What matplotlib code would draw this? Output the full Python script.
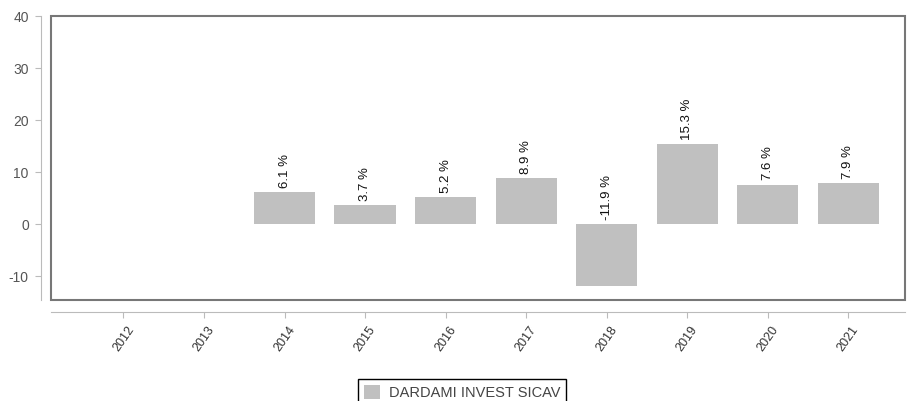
import matplotlib
matplotlib.use("Agg")
import matplotlib.pyplot as plt
from matplotlib.patches import Rectangle

plt.rcParams['font.family'] = ['Liberation Sans', 'DejaVu Sans']
plt.rcParams['axes.unicode_minus'] = False

years = ["2012", "2013", "2014", "2015", "2016", "2017", "2018", "2019", "2020", "2021"]
returns = [None, None, 6.1, 3.7, 5.2, 8.9, -11.9, 15.3, 7.6, 7.9]
value_labels = ["", "", "6.1 %", "3.7 %", "5.2 %", "8.9 %", "-11.9 %", "15.3 %", "7.6 %", "7.9 %"]
series_name = "DARDAMI INVEST SICAV"
yticks = [-10, 0, 10, 20, 30, 40]

fig = plt.figure(figsize=(9.17, 4.01), dpi=100)
ax = fig.add_axes([0.0556, 0.252, 0.931, 0.708])

# spines first -- moving them resets the tick labels
for s in ["top", "right"]:
    ax.spines[s].set_visible(False)
ax.spines["left"].set_position(("outward", 7))
ax.spines["bottom"].set_position(("outward", 9))
ax.spines["left"].set_color("#bbbbbb")
ax.spines["bottom"].set_color("#bbbbbb")

xs = [i for i, v in enumerate(returns) if v is not None]
vals = [v for v in returns if v is not None]
bars = ax.bar(xs, vals, width=0.76, color="#c0c0c0", label=series_name)

for i, v in zip(xs, vals):
    y = max(v, 0)
    ax.annotate(value_labels[i], (i, y), xytext=(0, 3), textcoords="offset points",
                rotation=90, ha="center", va="bottom", fontsize=9.5, color="#111111")

ax.set_xlim(-0.9, 9.7)
ax.set_ylim(-14.6, 40)
ax.set_xticks(range(len(years)))
ax.set_xticklabels(years, rotation=55, ha="center", va="top", fontsize=9, color="#333333")
ax.set_yticks(yticks)
ax.set_yticklabels([str(t) for t in yticks], fontsize=10, color="#555555")
ax.tick_params(axis="y", length=4, color="#bbbbbb", pad=5)
ax.tick_params(axis="x", length=4, color="#bbbbbb", pad=4)

ax.add_patch(Rectangle((0, 0), 1, 1, transform=ax.transAxes, fill=False,
                       edgecolor="#777777", lw=1.5, clip_on=False))

leg = fig.legend(handles=[bars], labels=[series_name], loc="upper center",
                 bbox_to_anchor=(0.504, 0.072), fontsize=10.5, fancybox=False,
                 edgecolor="black", framealpha=1, handlelength=1.1, handleheight=1.1,
                 handletextpad=0.6, borderpad=0.4)
leg.get_frame().set_linewidth(1.0)
for t in leg.get_texts():
    t.set_color("#444444")

fig.savefig("out.png", dpi=100)
